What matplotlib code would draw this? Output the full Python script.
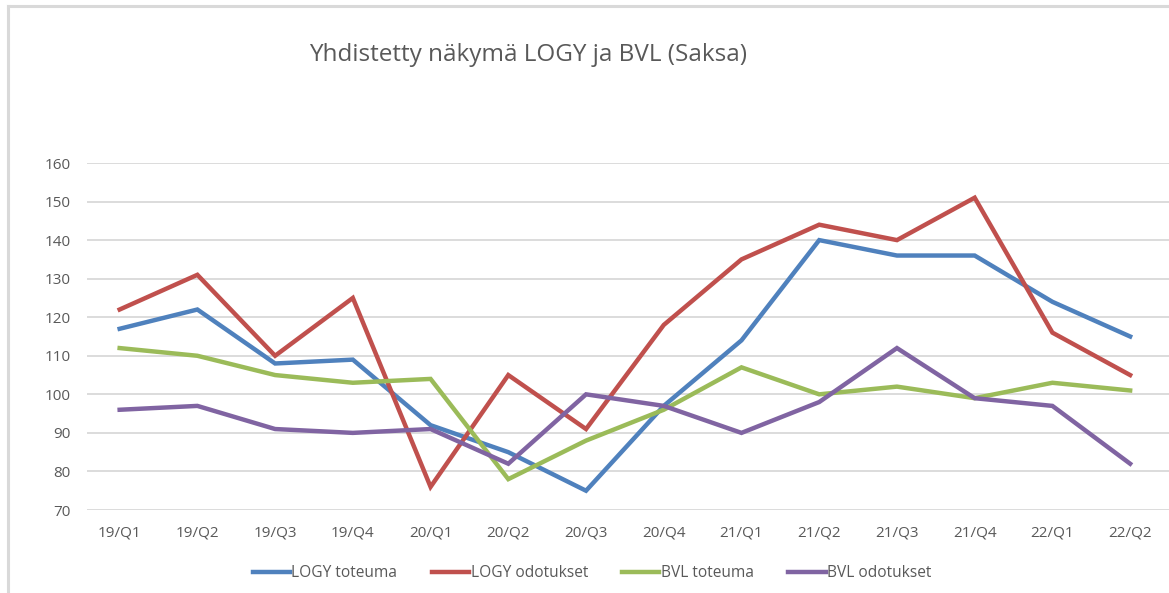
import matplotlib.pyplot as plt
import numpy as np
from matplotlib.lines import Line2D

plt.rcParams['font.family'] = ['Open Sans', 'DejaVu Sans']

quarters = ['19/Q1', '19/Q2', '19/Q3', '19/Q4', '20/Q1', '20/Q2', '20/Q3',
            '20/Q4', '21/Q1', '21/Q2', '21/Q3', '21/Q4', '22/Q1', '22/Q2']
logy_toteuma = [117, 122, 108, 109, 92, 85, 75, 97, 114, 140, 136, 136, 124, 115]
logy_odotukset = [122, 131, 110, 125, 76, 105, 91, 118, 135, 144, 140, 151, 116, 105]
bvl_toteuma = [112, 110, 105, 103, 104, 78, 88, 96, 107, 100, 102, 99, 103, 101]
bvl_odotukset = [96, 97, 91, 90, 91, 82, 100, 97, 90, 98, 112, 99, 97, 82]

series = [
    ('LOGY toteuma', logy_toteuma, '#4F81BD'),
    ('LOGY odotukset', logy_odotukset, '#C0504D'),
    ('BVL toteuma', bvl_toteuma, '#9BBB59'),
    ('BVL odotukset', bvl_odotukset, '#8064A2'),
]

W, H = 1169, 593
fig = plt.figure(figsize=(W / 100, H / 100), dpi=100)

# chart outline (top and left visible in the screenshot)
fig.add_artist(Line2D([8 / W, 8 / W], [0, 1 - 6 / H], color='#D9D9D9', lw=2.2))
fig.add_artist(Line2D([8 / W, 1], [1 - 6 / H, 1 - 6 / H], color='#D9D9D9', lw=2.2))

ax = fig.add_axes([87 / W, 1 - 510 / H, (1169 - 87) / W, (510 - 163) / H])
x = np.arange(len(quarters))
for name, vals, col in series:
    ax.plot(x, vals, color=col, lw=3.2, label=name, solid_joinstyle='miter')

ax.set_ylim(70, 160)
ax.set_yticks(range(70, 161, 10))
ax.set_xlim(-0.42, 13.5)
ax.set_xticks(x)
ax.set_xticklabels(quarters)
ax.grid(axis='y', color='#D9D9D9', lw=1.3)
ax.set_axisbelow(True)
for s in ax.spines.values():
    s.set_visible(False)
ax.tick_params(length=0, colors='#595959', labelsize=11)
ax.tick_params(axis='x', pad=11)
ax.tick_params(axis='y', pad=12)

fig.text(528 / W, 1 - 55 / H, 'Yhdistetty näkymä LOGY ja BVL (Saksa)',
         ha='center', va='center', fontsize=17.5, color='#595959')

fig.legend(loc='center', bbox_to_anchor=(592 / W, 1 - 573 / H), ncol=4,
           frameon=False, fontsize=11.2, handlelength=2.4, handletextpad=0.1,
           columnspacing=2.2, labelcolor='#595959')

fig.savefig('out.png', dpi=100)
